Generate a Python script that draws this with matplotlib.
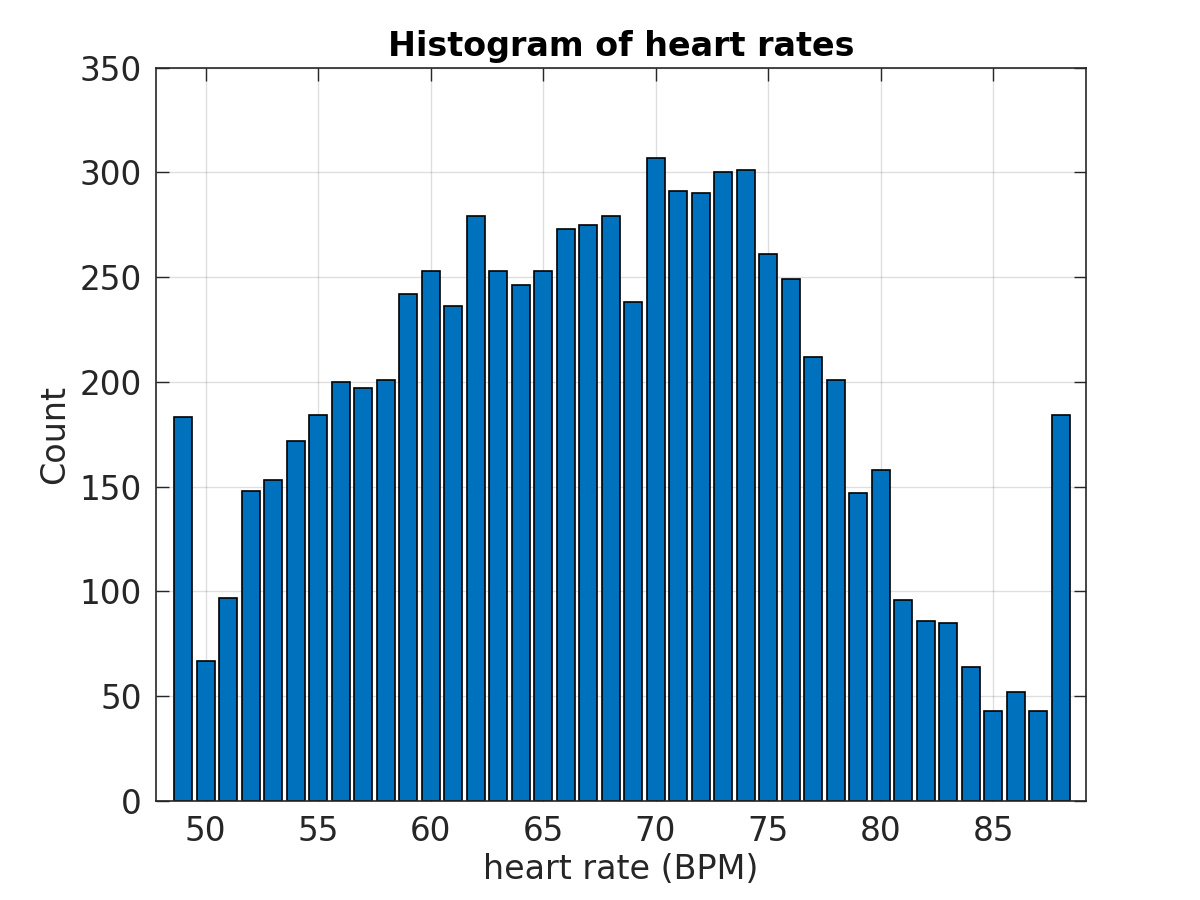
import numpy as np
import matplotlib
matplotlib.use("Agg")
import matplotlib.pyplot as plt

# heart rate bins (BPM) and counts
bpm = np.arange(49, 89)
counts = [183, 67, 97, 148, 153, 172, 184, 200, 197, 201,
          242, 253, 236, 279, 253, 246, 253, 273, 275, 279,
          238, 307, 291, 290, 300, 301, 261, 249, 212, 201,
          147, 158, 96, 86, 85, 64, 43, 52, 43, 184]
xticks = [50, 55, 60, 65, 70, 75, 80, 85]
yticks = [0, 50, 100, 150, 200, 250, 300, 350]

dark = "#262626"
plt.rcParams['font.family'] = ['DejaVu Sans']

fig = plt.figure(figsize=(12, 9), dpi=100)
ax = fig.add_axes([0.13, 0.11, 0.775, 0.815])

ax.bar(bpm, counts, width=0.8, color="#0072BD", edgecolor="black", linewidth=1.2, zorder=2)

ax.set_xlim(47.8, 89.13)
ax.set_ylim(0, 350)
ax.set_xticks(xticks)
ax.set_yticks(yticks)

ax.grid(True, color=dark, alpha=0.15, linewidth=1.0)
ax.set_axisbelow(True)

ax.tick_params(direction="in", length=9, width=1.0, colors=dark, labelsize=23.5,
               top=True, right=True, pad=10)
for sp in ax.spines.values():
    sp.set_color(dark)
    sp.set_linewidth(1.2)

ax.set_xlabel("heart rate (BPM)", fontsize=24, color=dark, labelpad=4)
ax.set_ylabel("Count", fontsize=24, color=dark, labelpad=6)
ax.set_title("Histogram of heart rates", fontsize=24, fontweight="bold", color="black", pad=8)

fig.savefig("out.png", dpi=100)
